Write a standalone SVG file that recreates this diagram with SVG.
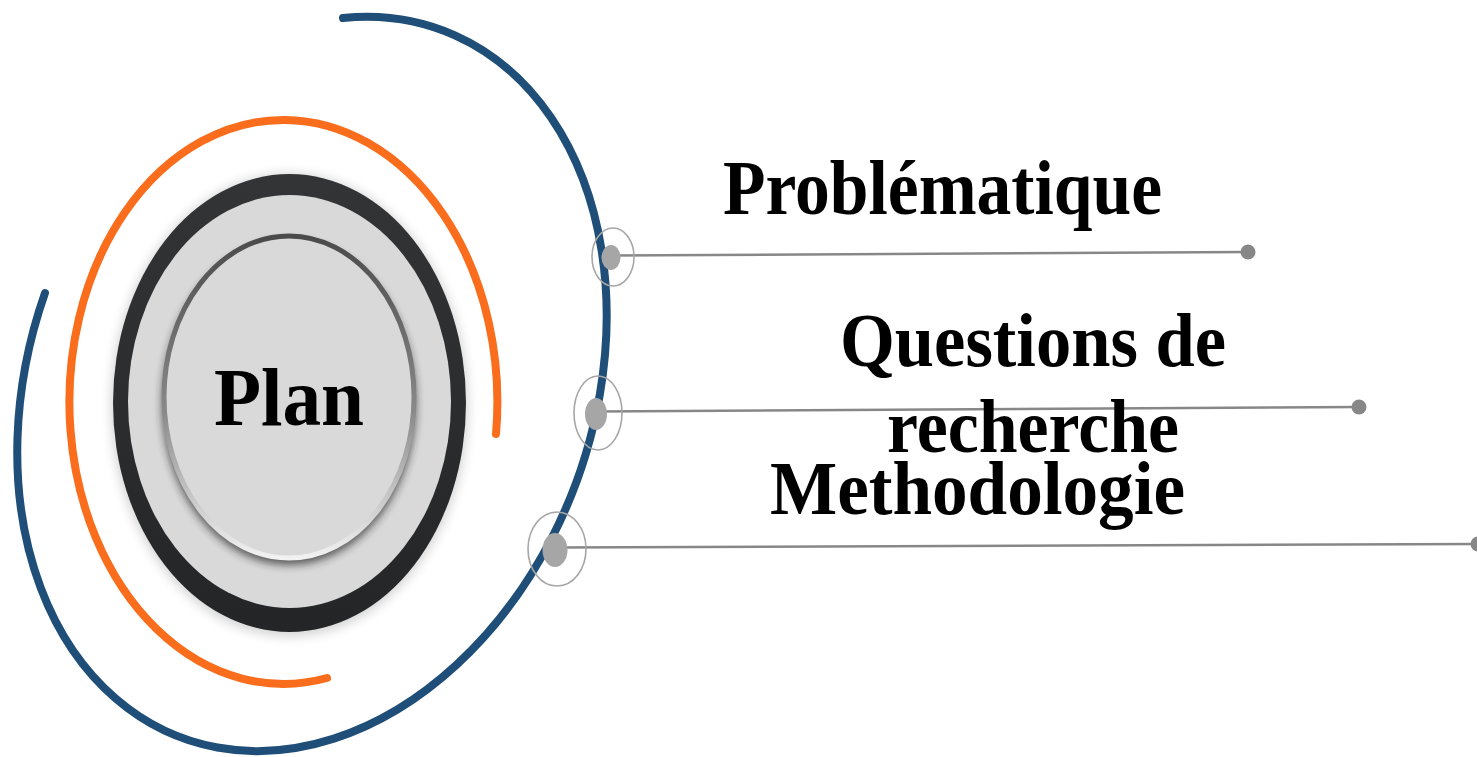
<svg xmlns="http://www.w3.org/2000/svg" width="1477" height="757" viewBox="0 0 1477 757">
  <defs>
    <linearGradient id="ringGrad" x1="0" y1="0" x2="0" y2="1">
      <stop offset="0" stop-color="#333436"/>
      <stop offset="1" stop-color="#242526"/>
    </linearGradient>
    <linearGradient id="bevelGrad" x1="0" y1="0" x2="0" y2="1">
      <stop offset="0" stop-color="#4a4a4a"/>
      <stop offset="0.55" stop-color="#8a8a8a"/>
      <stop offset="0.85" stop-color="#d0d0d0"/>
      <stop offset="1" stop-color="#f2f2f2"/>
    </linearGradient>
    <filter id="softShadow" x="-20%" y="-20%" width="140%" height="140%">
      <feGaussianBlur stdDeviation="4"/>
    </filter>
    <filter id="outerShadow" x="-20%" y="-20%" width="140%" height="140%">
      <feGaussianBlur stdDeviation="6"/>
    </filter>
    <style>
      .blue { fill: none; stroke: #1f4e79; stroke-width: 8; stroke-linecap: round; }
      .orange { fill: none; stroke: #f96d1d; stroke-width: 8; stroke-linecap: round; }
      .ring { fill: none; stroke: #a6a6a6; stroke-width: 1.6; }
      .dot { fill: #a6a6a6; }
      .enddot { fill: #878787; }
      .conn { stroke: #878787; stroke-width: 2.5; fill: none; }
      .label { font-family: "Liberation Serif", "Times New Roman", serif; font-weight: bold; fill: #000000; }
    </style>
  </defs>

  <rect x="0" y="0" width="1477" height="757" fill="#ffffff"/>

  <g id="arcs">
    <path class="blue" d="M 343 18 A 282 377 20 1 1 45 293"/>
    <path class="orange" d="M 496 434 A 214 282 0 1 0 327 678"/>
  </g>

  <g id="plan">
    <ellipse cx="289.5" cy="405" rx="178" ry="231" fill="#000" opacity="0.18" filter="url(#outerShadow)"/>
    <ellipse cx="289.5" cy="403" rx="176.5" ry="229" fill="url(#ringGrad)"/>
    <ellipse cx="289.5" cy="401.5" rx="161.5" ry="206.5" fill="#d9d9d9"/>
    <ellipse cx="289" cy="403" rx="127" ry="162" fill="#222" opacity="0.7" filter="url(#softShadow)"/>
    <ellipse cx="289" cy="397" rx="125" ry="161" fill="#d9d9d9" stroke="url(#bevelGrad)" stroke-width="5"/>
    <text class="label" x="289" y="425" font-size="83" text-anchor="middle" textLength="150" lengthAdjust="spacingAndGlyphs">Plan</text>
  </g>

  <g id="connectors">
    <line class="conn" x1="611" y1="255.5" x2="1248" y2="252"/>
    <line class="conn" x1="596" y1="411.5" x2="1359" y2="407"/>
    <line class="conn" x1="555" y1="547.5" x2="1478" y2="544"/>
    <circle class="enddot" cx="1248" cy="252" r="7.5"/>
    <circle class="enddot" cx="1359" cy="407" r="7.5"/>
    <circle class="enddot" cx="1478" cy="544" r="7.5"/>
  </g>

  <g id="node-problematique">
    <ellipse class="ring" cx="613" cy="257" rx="21" ry="29"/>
    <ellipse class="dot" cx="611" cy="257.5" rx="9.5" ry="12.5"/>
    <text class="label" x="723" y="214" font-size="78" textLength="439" lengthAdjust="spacingAndGlyphs">Problématique</text>
  </g>

  <g id="node-questions">
    <ellipse class="ring" cx="598" cy="413" rx="24" ry="37"/>
    <ellipse class="dot" cx="596" cy="414" rx="11" ry="16"/>
    <text class="label" x="840" y="366" font-size="76" textLength="386" lengthAdjust="spacingAndGlyphs">Questions de</text>
    <text class="label" x="887" y="452" font-size="76" textLength="292" lengthAdjust="spacingAndGlyphs">recherche</text>
  </g>

  <g id="node-methodologie">
    <ellipse class="ring" cx="557" cy="549" rx="29" ry="37"/>
    <ellipse class="dot" cx="555" cy="550" rx="12.5" ry="17"/>
    <text class="label" x="770" y="514" font-size="76" textLength="415" lengthAdjust="spacingAndGlyphs">Methodologie</text>
  </g>
</svg>
